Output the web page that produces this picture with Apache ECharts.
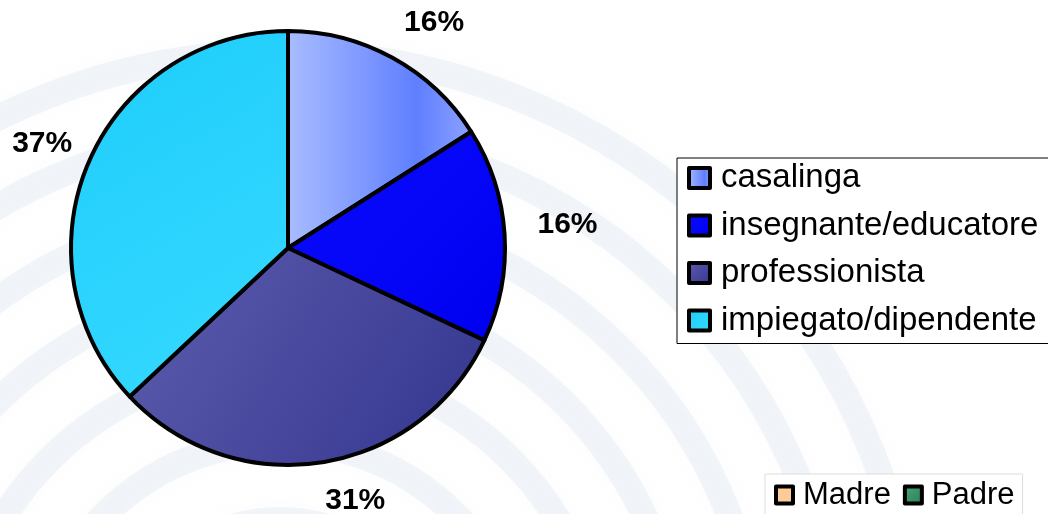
<!DOCTYPE html>
<html>
<head>
<meta charset="utf-8">
<script src="https://cdn.jsdelivr.net/npm/echarts@6/dist/echarts.min.js"></script>
<style>
  html, body { margin: 0; padding: 0; background: #fff; }
  #chart { width: 1048px; height: 514px; }
</style>
</head>
<body>
<div id="chart"></div>
<script>
// dati
var categorie = ['casalinga', 'insegnante/educatore', 'professionista', 'impiegato/dipendente'];
var percentuali = [16, 16, 31, 37];
var genitori = ['Madre', 'Padre'];
var valoriGenitori = [0, 0];

var FONT = 'Liberation Sans, Arial, sans-serif';

// colori delle fette (sfumature come nell'originale)
function grad(x2, y2, stops) {
  return new echarts.graphic.LinearGradient(0, 0, x2, y2, stops);
}
var coloriFette = [
  grad(1, 0, [{ offset: 0, color: '#aabdff' }, { offset: 0.7, color: '#5f7fff' }, { offset: 1, color: '#8ea3ff' }]),
  grad(1, 1, [{ offset: 0, color: '#0a0aff' }, { offset: 1, color: '#0000f0' }]),
  grad(1, 1, [{ offset: 0, color: '#5d5eae' }, { offset: 1, color: '#33348e' }]),
  grad(1, 1, [{ offset: 0, color: '#1ecdfb' }, { offset: 1, color: '#36d9ff' }])
];
var coloriGenitori = [
  '#ffcc99',
  grad(1, 1, [{ offset: 0, color: '#4aa77a' }, { offset: 1, color: '#2a7f55' }])
];

// correzioni fini della posizione delle etichette
var spostaEtichette = [[16, 11], [10, -6], [25, -14], [2, 3]];

var datiPie = categorie.map(function (c, i) {
  return { name: c, value: percentuali[i], itemStyle: { color: coloriFette[i] } };
});
var datiEtichette = categorie.map(function (c, i) {
  return { name: c, value: percentuali[i] };
});
var datiGenitori = genitori.map(function (g, i) {
  return { name: g, value: valoriGenitori[i], itemStyle: { color: coloriGenitori[i] } };
});

// sfondo: anelli concentrici sbiaditi
var anelli = [];
for (var r = 170; r <= 660; r += 78) {
  anelli.push({
    type: 'circle',
    silent: true,
    z: -10,
    shape: { cx: 280, cy: 690, r: r },
    style: {
      fill: 'none',
      stroke: 'rgba(200,212,230,0.22)',
      lineWidth: 26,
      shadowBlur: 20,
      shadowColor: 'rgba(200,212,230,0.35)'
    }
  });
}

var myChart = echarts.init(document.getElementById('chart'));
var option = {
  backgroundColor: '#ffffff',
  animation: false,
  graphic: anelli,
  legend: [
    {
      data: categorie,
      orient: 'vertical',
      left: 677,
      top: 158,
      padding: [3, 60, 6, 10],
      backgroundColor: '#ffffff',
      borderColor: '#000000',
      borderWidth: 1,
      itemWidth: 21,
      itemHeight: 20,
      itemGap: 13.5,
      icon: 'rect',
      itemStyle: { borderColor: '#000', borderWidth: 4 },
      textStyle: { fontFamily: FONT, fontSize: 33, color: '#000', lineHeight: 34, padding: [0, 0, 0, 6] }
    },
    {
      data: genitori,
      orient: 'horizontal',
      left: 765,
      top: 474,
      padding: [4, 8, 30, 9],
      backgroundColor: '#ffffff',
      borderColor: '#dddddd',
      borderWidth: 1,
      itemWidth: 17,
      itemHeight: 17,
      itemGap: 12,
      icon: 'rect',
      itemStyle: { borderColor: '#000', borderWidth: 4 },
      textStyle: { fontFamily: FONT, fontSize: 31, color: '#000', lineHeight: 34, padding: [0, 0, 0, 5] }
    }
  ],
  series: [
    {
      name: 'professione',
      type: 'pie',
      center: [288, 248],
      radius: 217,
      startAngle: 90,
      clockwise: true,
      avoidLabelOverlap: false,
      label: { show: false },
      labelLine: { show: false },
      emphasis: { disabled: true },
      itemStyle: { borderColor: '#000000', borderWidth: 4 },
      data: datiPie
    },
    {
      // anello trasparente che porta le etichette percentuali
      name: 'etichette',
      type: 'pie',
      center: [288, 248],
      radius: [249, 285],
      startAngle: 90,
      clockwise: true,
      silent: true,
      avoidLabelOverlap: false,
      itemStyle: { color: 'rgba(0,0,0,0)', borderWidth: 0 },
      label: {
        show: true,
        position: 'inside',
        formatter: '{c}%',
        fontFamily: FONT,
        fontSize: 30,
        fontWeight: 'bold',
        color: '#000'
      },
      labelLine: { show: false },
      labelLayout: function (p) {
        var s = spostaEtichette[p.dataIndex];
        return { dx: s[0], dy: s[1] };
      },
      data: datiEtichette
    },
    {
      name: 'genitori',
      type: 'pie',
      center: [900, 600],
      radius: [0, 0],
      silent: true,
      label: { show: false },
      labelLine: { show: false },
      itemStyle: { borderWidth: 0 },
      data: datiGenitori
    }
  ]
};
myChart.setOption(option);
</script>
</body>
</html>
